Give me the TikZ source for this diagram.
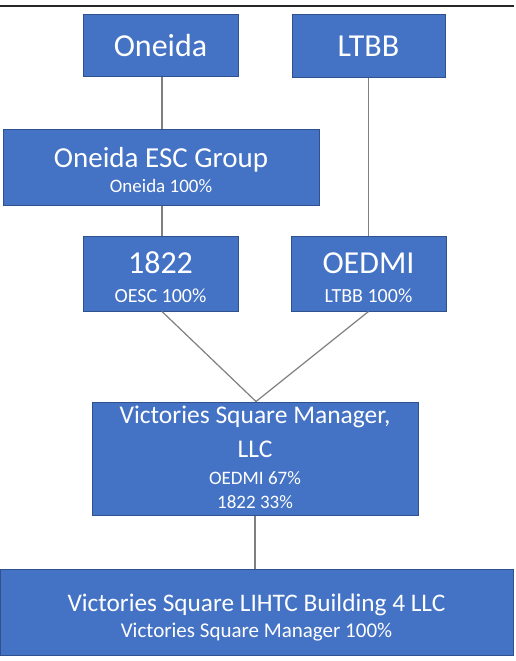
\documentclass[tikz,border=0pt]{standalone}
\usepackage{fontspec}
\setmainfont{Carlito}
\definecolor{boxfill}{HTML}{4472C4}
\definecolor{boxline}{HTML}{2F528F}
\definecolor{conn}{HTML}{7F7F7F}
\begin{document}
\begin{tikzpicture}[x=1pt,y=-1pt,
  orgbox/.style={draw=boxline, fill=boxfill, line width=1pt, inner sep=0pt},
  txt/.style={text=white, anchor=base, inner sep=0pt},
  link/.style={draw=conn, line width=1.2pt}]
\useasboundingbox (0,0) rectangle (516,661);
\fill[white] (0,0) rectangle (516,661);
\coordinate (tl) at (0,6);
\coordinate (tr) at (514,6);
\draw[line width=2pt, color=black!85] (tl) -- (tr);
% boxes
\node[orgbox, minimum width=155pt, minimum height=62pt] (oneida) at (160.5,45.5) {};
\node[orgbox, minimum width=153pt, minimum height=62pt] (ltbb) at (368.5,46) {};
\node[orgbox, minimum width=316pt, minimum height=76pt] (esc) at (161,167) {};
\node[orgbox, minimum width=155pt, minimum height=75pt] (n1822) at (160.5,273.5) {};
\node[orgbox, minimum width=155pt, minimum height=75pt] (oedmi) at (368.5,273.5) {};
\node[orgbox, minimum width=326pt, minimum height=113pt] (mgr) at (255,458.5) {};
\node[orgbox, minimum width=513pt, minimum height=86pt] (bottom) at (256.5,612) {};
% texts
\node[txt, font=\fontsize{32}{38}\selectfont] (toneida) at (160.5,57) {Oneida};
\node[txt, font=\fontsize{32}{38}\selectfont] (tltbb) at (368.5,57) {LTBB};
\node[txt, font=\fontsize{29}{34}\selectfont] (tesc) at (161,167) {Oneida ESC Group};
\node[txt, font=\fontsize{19}{23}\selectfont] (tesc2) at (161,192) {Oneida 100\%};
\node[txt, font=\fontsize{32}{38}\selectfont] (t1822) at (160.5,273) {1822};
\node[txt, font=\fontsize{20}{24}\selectfont] (t1822b) at (160.5,302) {OESC 100\%};
\node[txt, font=\fontsize{32}{38}\selectfont] (toedmi) at (368.5,273) {OEDMI};
\node[txt, font=\fontsize{20}{24}\selectfont] (toedmi2) at (368.5,302) {LTBB 100\%};
\node[txt, font=\fontsize{25.5}{30}\selectfont] (tmgr) at (255,423) {Victories Square Manager,};
\node[txt, font=\fontsize{25.5}{30}\selectfont] (tmgr2) at (255,457) {LLC};
\node[txt, font=\fontsize{19}{23}\selectfont] (tmgr3) at (255,484) {OEDMI 67\%};
\node[txt, font=\fontsize{19}{23}\selectfont] (tmgr4) at (255,508) {1822 33\%};
\node[txt, font=\fontsize{25.3}{30}\selectfont] (tbot) at (256.5,611) {Victories Square LIHTC Building 4 LLC};
\node[txt, font=\fontsize{21}{25}\selectfont] (tbot2) at (256.5,637) {Victories Square Manager 100\%};
% connectors
\draw[link] ([xshift=1.5pt]oneida.south) -- ([xshift=1.5pt]oneida.south |- esc.north);
\draw[link] ([xshift=1pt]esc.south) -- ([xshift=1pt]esc.south |- n1822.north);
\draw[link] (ltbb.south) -- (ltbb.south |- oedmi.north);
\draw[link] ([xshift=1.5pt]n1822.south) -- ([xshift=1pt]mgr.north);
\draw[link] (oedmi.south) -- ([xshift=1pt]mgr.north);
\draw[link] (mgr.south) -- (mgr.south |- bottom.north);
\end{tikzpicture}
\end{document}
